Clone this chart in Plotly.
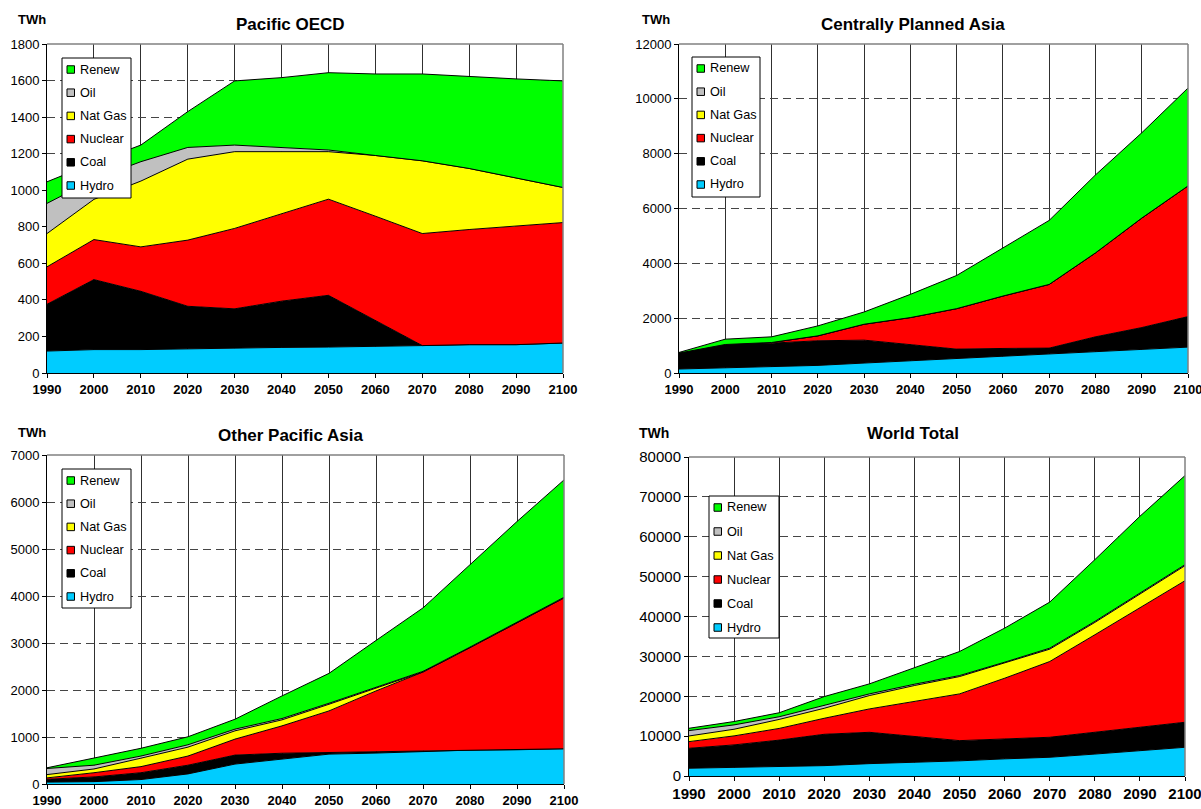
import plotly.graph_objects as go

years = [1990, 2000, 2010, 2020, 2030, 2040, 2050, 2060, 2070, 2080, 2090, 2100]
sources = ["Hydro", "Coal", "Nuclear", "Nat Gas", "Oil", "Renew"]
colors = {"Hydro": "#00CCFF", "Coal": "#000000", "Nuclear": "#FF0000",
          "Nat Gas": "#FFFF00", "Oil": "#C0C0C0", "Renew": "#00FF00"}

# Pacific OECD (TWh)
po_hydro = [120, 128, 128, 133, 135, 140, 142, 148, 150, 155, 155, 164]
po_coal = [256, 383, 319, 232, 216, 253, 283, 140, 0, 0, 0, 0]
po_nuclear = [205, 219, 243, 362, 440, 480, 526, 570, 613, 630, 648, 659]
po_gas = [182, 220, 360, 443, 420, 338, 260, 332, 398, 334, 262, 192]
po_oil = [165, 110, 106, 64, 36, 23, 9, 0, 0, 0, 0, 0]
po_renew = [118, 90, 91, 196, 351, 382, 423, 446, 475, 502, 544, 583]

# Centrally Planned Asia (TWh)
cpa_hydro = [145, 194, 230, 278, 363, 448, 532, 629, 714, 774, 859, 944]
cpa_coal = [581, 846, 859, 896, 835, 581, 339, 266, 194, 545, 798, 1113]
cpa_nuclear = [0, 0, 24, 181, 581, 992, 1476, 1912, 2323, 3061, 3993, 4767]
cpa_gas = [0, 0, 0, 0, 0, 0, 0, 0, 0, 0, 0, 0]
cpa_oil = [0, 0, 0, 0, 0, 0, 0, 0, 0, 0, 0, 0]
cpa_renew = [24, 194, 206, 363, 447, 847, 1210, 1755, 2335, 2844, 3110, 3570]

# Other Pacific Asia (TWh)
opa_hydro = [40, 50, 95, 215, 424, 530, 636, 658, 693, 721, 728, 750]
opa_coal = [60, 100, 145, 185, 191, 125, 34, 28, 7, 0, 0, 0]
opa_nuclear = [30, 90, 130, 195, 340, 582, 885, 1294, 1683, 2178, 2701, 3209]
opa_gas = [70, 80, 180, 190, 176, 128, 142, 56, 0, 0, 0, 0]
opa_oil = [130, 80, 45, 50, 36, 28, 21, 21, 14, 14, 14, 14]
opa_renew = [15, 145, 165, 170, 212, 481, 636, 997, 1350, 1753, 2142, 2497]

# World Total (TWh)
wt_hydro = [1950, 2200, 2300, 2600, 3100, 3400, 3800, 4300, 4700, 5500, 6300, 7200]
wt_coal = [5000, 5600, 6700, 7860, 7860, 6480, 5070, 4990, 5010, 5470, 5920, 6280]
wt_nuclear = [1670, 2260, 2930, 4020, 5860, 8790, 11720, 15230, 19000, 24440, 29880, 35490]
wt_gas = [1420, 1670, 2260, 2510, 3350, 4020, 4350, 3770, 3100, 3100, 3520, 3770]
wt_oil = [1340, 1090, 670, 670, 420, 330, 250, 250, 250, 250, 250, 250]
wt_renew = [590, 840, 1000, 2260, 2510, 4190, 6030, 8540, 11550, 15490, 19260, 22350]

panels = [
    {"title": "Pacific OECD", "ymax": 1800, "dtick": 200,
     "data": [po_hydro, po_coal, po_nuclear, po_gas, po_oil, po_renew]},
    {"title": "Centrally Planned Asia", "ymax": 12000, "dtick": 2000,
     "data": [cpa_hydro, cpa_coal, cpa_nuclear, cpa_gas, cpa_oil, cpa_renew]},
    {"title": "Other Pacific Asia", "ymax": 7000, "dtick": 1000,
     "data": [opa_hydro, opa_coal, opa_nuclear, opa_gas, opa_oil, opa_renew]},
    {"title": "World Total", "ymax": 80000, "dtick": 10000,
     "data": [wt_hydro, wt_coal, wt_nuclear, wt_gas, wt_oil, wt_renew]},
]

W, H = 1201, 809
# plot areas in pixels: (left, right, top, bottom)
boxes = [(47, 563, 44, 373), (679, 1188, 44, 373), (47, 564, 455, 784), (689, 1185, 457, 776)]
# legend boxes: (left, top, width, height, item spacing)
legend_boxes = [(62, 58, 69, 140, 23.2), (692, 57, 68, 140, 23.2),
                (62, 469, 69, 139, 23.2), (709, 496, 70, 142, 24.0)]
title_pos = [(290, 24), (913, 25), (290, 436), (913, 433)]
twh_pos = [(32, 19), (656, 19), (32, 432), (654, 433)]
ytick_sizes = [13, 13, 13, 15]
xtick_sizes = [13, 13, 13, 15]
twh_sizes = [13, 13, 13, 14]

FONT = "Arial, Liberation Sans, sans-serif"


def px(x):
    return x / W


def py(y):
    return 1 - y / H


fig = go.Figure()
layout = dict(width=W, height=H, margin=dict(l=0, r=0, t=0, b=0, autoexpand=False),
              paper_bgcolor="white", plot_bgcolor="white",
              font=dict(family=FONT, color="black"), showlegend=False)
annotations = []
shapes = []

for i, p in enumerate(panels):
    n = "" if i == 0 else str(i + 1)
    xa, ya = "x" + n, "y" + n
    l, r, t, b = boxes[i]
    layout["xaxis" + n] = dict(
        domain=[px(l), px(r)], anchor=ya, range=[1990, 2100], dtick=10, tick0=1990,
        showgrid=True, gridcolor="#303030", gridwidth=1,
        showline=True, linecolor="black", linewidth=1,
        ticks="outside", ticklen=4, tickcolor="black",
        tickfont=dict(family=FONT, size=xtick_sizes[i], color="black", weight="bold"),
        ticklabeloverflow="allow",
        zeroline=False, fixedrange=True, automargin=False)
    layout["yaxis" + n] = dict(
        domain=[py(b), py(t)], anchor=xa, range=[0, p["ymax"]], dtick=p["dtick"],
        tickformat="d",
        showgrid=True, gridcolor="#454545", gridwidth=1, griddash="8px,5px",
        showline=True, linecolor="black", linewidth=1,
        ticks="outside", ticklen=4, tickcolor="black",
        tickfont=dict(family=FONT, size=ytick_sizes[i], color="black"),
        ticklabeloverflow="allow",
        zeroline=False, fixedrange=True, automargin=False)
    for s, vals in zip(sources, p["data"]):
        fig.add_trace(go.Scatter(
            x=years, y=vals, name=s, stackgroup="g" + str(i), mode="lines",
            line=dict(color="black", width=1), fillcolor=colors[s],
            showlegend=False, xaxis=xa, yaxis=ya, hoverinfo="x+y+name"))

    # legend box (drawn as shapes + text)
    lx, ly, lw, lh, sp = legend_boxes[i]
    shapes.append(dict(type="rect", xref="paper", yref="paper",
                       x0=px(lx), x1=px(lx + lw), y0=py(ly + lh), y1=py(ly),
                       fillcolor="white", line=dict(color="black", width=1), layer="above"))
    for k, s in enumerate(reversed(sources)):
        cy = ly + 11.5 + k * sp
        shapes.append(dict(type="rect", xref="paper", yref="paper",
                           x0=px(lx + 5), x1=px(lx + 12.5), y0=py(cy + 3.75), y1=py(cy - 3.75),
                           fillcolor=colors[s], line=dict(color="black", width=1), layer="above"))
        annotations.append(dict(text=s, x=px(lx + 16), y=py(cy), xref="paper", yref="paper",
                                showarrow=False, xanchor="left", yanchor="middle",
                                font=dict(family=FONT, size=12.7, color="black")))

    tx, ty = title_pos[i]
    annotations.append(dict(text="<b>" + p["title"] + "</b>", x=px(tx), y=py(ty),
                            xref="paper", yref="paper", showarrow=False,
                            xanchor="center", yanchor="middle",
                            font=dict(family=FONT, size=17, color="black")))
    wx, wy = twh_pos[i]
    annotations.append(dict(text="<b>TWh</b>", x=px(wx), y=py(wy),
                            xref="paper", yref="paper", showarrow=False,
                            xanchor="center", yanchor="middle",
                            font=dict(family=FONT, size=twh_sizes[i], color="black")))
    shapes.append(dict(type="line", xref=xa + " domain", yref=ya + " domain",
                       x0=0, x1=1, y0=1, y1=1, line=dict(color="#808080", width=1.5)))
    shapes.append(dict(type="line", xref=xa + " domain", yref=ya + " domain",
                       x0=1, x1=1, y0=0, y1=1, line=dict(color="#808080", width=1.5)))

layout["annotations"] = annotations
layout["shapes"] = shapes
fig.update_layout(**layout)
fig.write_html("out.html", config={"displayModeBar": False},
               post_script="document.body.style.margin='0';document.body.style.overflow='hidden';")
